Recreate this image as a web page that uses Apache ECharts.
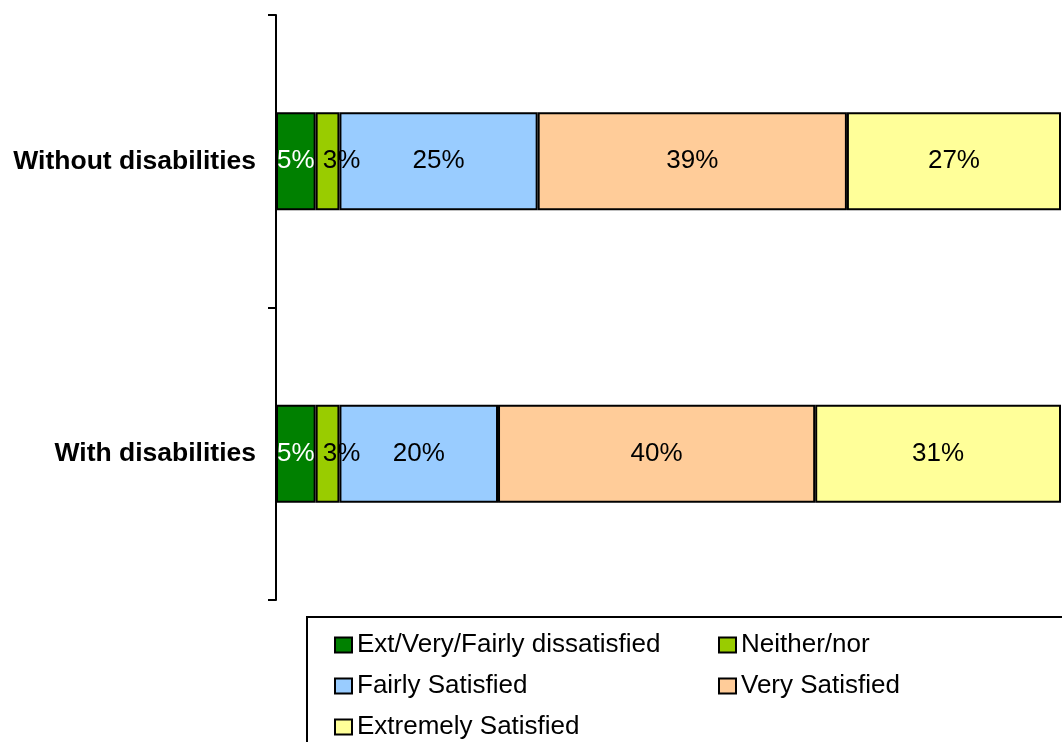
<!DOCTYPE html>
<html>
<head>
<meta charset="utf-8">
<script src="https://cdn.jsdelivr.net/npm/echarts@6/dist/echarts.min.js"></script>
<style>html,body{margin:0;padding:0;background:#fff;}#c{width:1062px;height:742px;}</style>
</head>
<body>
<div id="c"></div>
<script>
const categories = ['Without disabilities', 'With disabilities'];
const seriesNames = ['Ext/Very/Fairly dissatisfied', 'Neither/nor', 'Fairly Satisfied', 'Very Satisfied', 'Extremely Satisfied'];
const dissatisfied = [5, 5];
const neither = [3, 3];
const fairly = [25, 20];
const very = [39, 40];
const extremely = [27, 31];
const colors = ['#008000', '#99CC00', '#99CCFF', '#FFCC99', '#FFFF99'];
const labelColors = ['#ffffff', '#000000', '#000000', '#000000', '#000000'];
const labelPads = [[4, 0, 0, 0], [4, 0, 0, 28], [4, 0, 0, 0], [4, 0, 0, 0], [4, 0, 0, 0]];
const values = [dissatisfied, neither, fairly, very, extremely];
const FONT = '"Liberation Sans", Arial, sans-serif';

const chart = echarts.init(document.getElementById('c'), null, {renderer: 'canvas'});
const series = seriesNames.map((name, i) => ({
  name: name,
  type: 'bar',
  stack: 'total',
  barWidth: 98,
  data: values[i],
  itemStyle: {color: colors[i], borderColor: '#000', borderWidth: 2},
  label: {
    show: true,
    position: 'inside',
    formatter: '{c}%',
    color: labelColors[i],
    fontFamily: FONT,
    fontSize: 26,
    padding: labelPads[i]
  },
  labelLayout: {hideOverlap: false},
  emphasis: {disabled: true}
}));

const legendCommon = {
  orient: 'vertical',
  icon: 'rect',
  itemWidth: 17,
  itemHeight: 15,
  itemGap: 15,
  padding: 0,
  textStyle: {fontFamily: FONT, fontSize: 26, color: '#000', padding: [0, 0, 0, 0], lineHeight: 26},
  selectedMode: false
};

chart.setOption({
  animation: false,
  backgroundColor: '#fff',
  grid: {left: 276, right: 1, top: 15, bottom: 142},
  xAxis: {
    type: 'value', min: 0, max: 99,
    show: false
  },
  yAxis: {
    type: 'category',
    data: categories,
    inverse: true,
    axisLine: {show: true, lineStyle: {color: '#000', width: 2}},
    axisTick: {show: true, length: 8, lineStyle: {color: '#000', width: 2}},
    axisLabel: {fontFamily: FONT, fontSize: 26.5, fontWeight: 'bold', color: '#000', margin: 20, padding: [4, 0, 0, 0]}
  },
  legend: [
    Object.assign({}, legendCommon, {data: [seriesNames[0], seriesNames[2], seriesNames[4]], left: 334, top: 632}),
    Object.assign({}, legendCommon, {data: [seriesNames[1], seriesNames[3]], left: 718, top: 632})
  ],
  graphic: [{
    type: 'rect',
    shape: {x: 307, y: 617, width: 800, height: 200},
    style: {fill: 'none', stroke: '#000', lineWidth: 2},
    silent: true,
    z: -1
  }],
  series: series
});
</script>
</body>
</html>
